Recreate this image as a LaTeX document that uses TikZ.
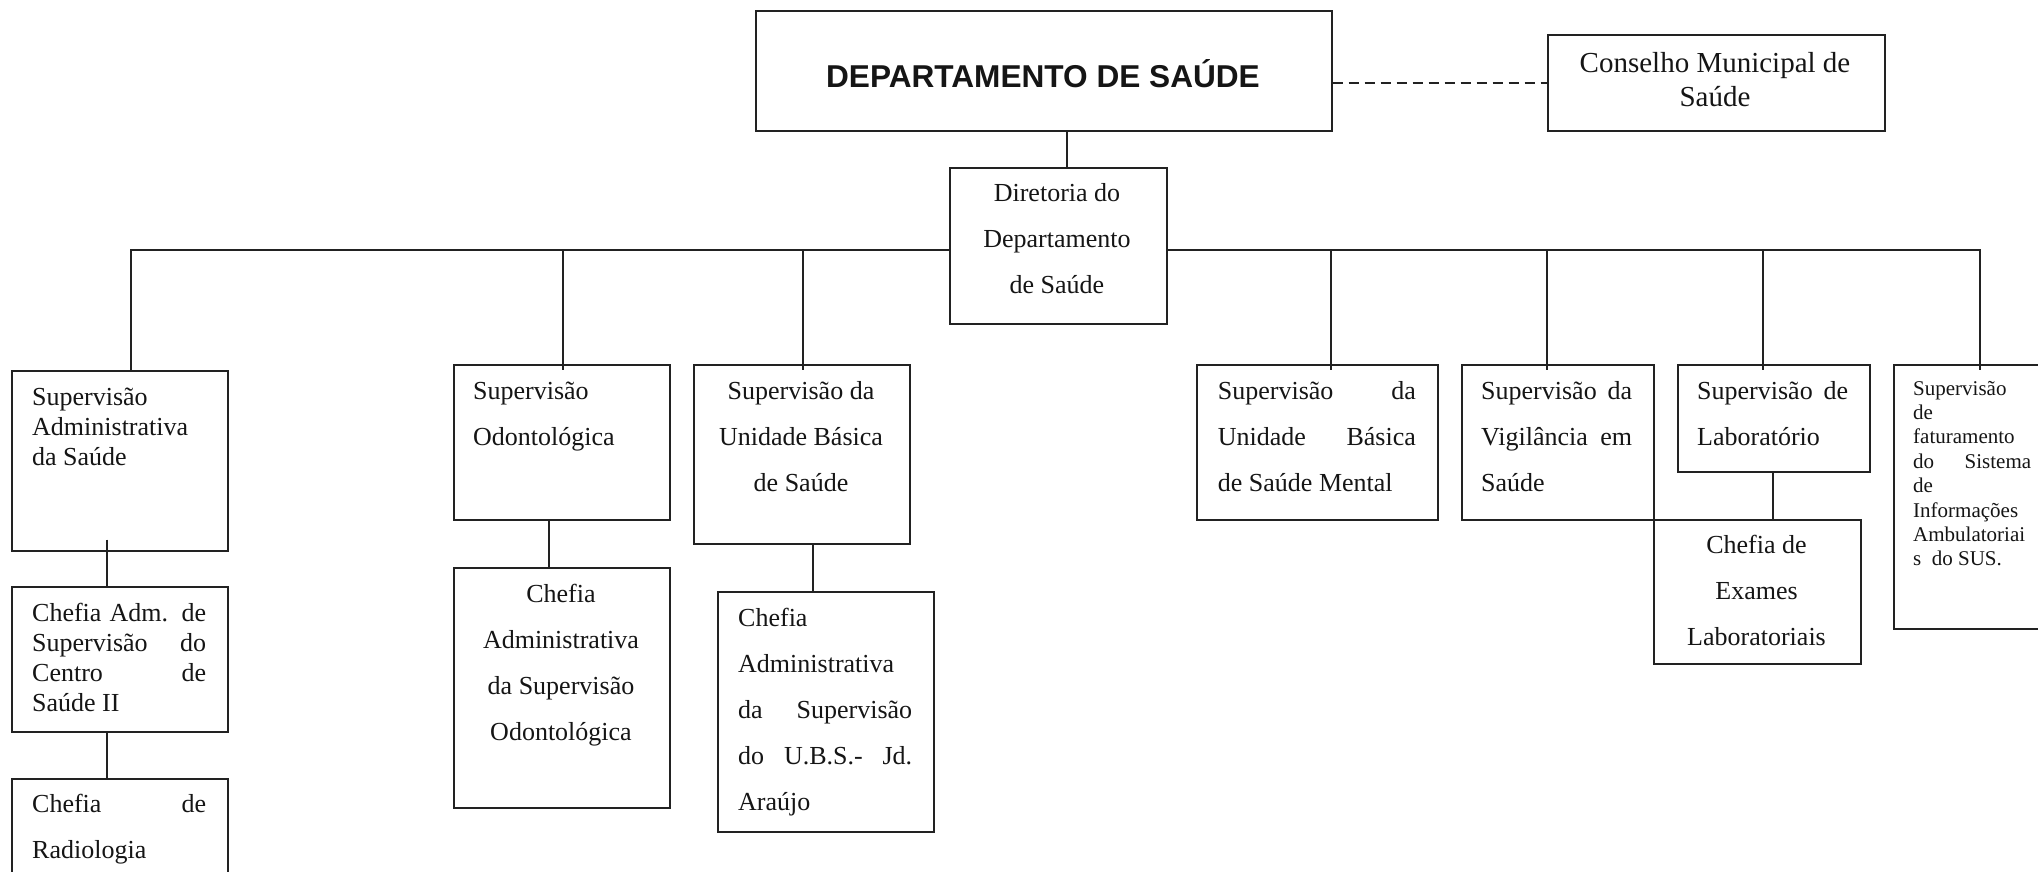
\documentclass[tikz,border=0pt]{standalone}
\usepackage{fontspec}
\setmainfont{Liberation Serif}
\newfontfamily\arialfont{Liberation Sans}
\usetikzlibrary{calc}
\definecolor{linec}{HTML}{222222}
\definecolor{textc}{HTML}{151515}
\newcommand\fss{\fontsize{26}{30}\selectfont}
\newcommand\fsd{\fontsize{26}{46}\selectfont}
\newcommand\jl[1]{\makebox[\linewidth][s]{#1}}
\tikzset{
  bx/.style={draw=linec, line width=1.7pt, inner sep=0pt, anchor=north west},
  txt/.style={inner sep=0pt, anchor=base west, text=textc},
  ctxt/.style={inner sep=0pt, anchor=base, text=textc},
  conn/.style={draw=linec, line width=1.6pt},
}
\begin{document}
\begin{tikzpicture}[x=1pt,y=-1pt]
\useasboundingbox (0,0) rectangle (2038,871);
\fill[white] (0,0) rectangle (2038,871);

% boxes
\node[bx, minimum width=576pt, minimum height=120pt] (dept) at (755,10) {};
\node[bx, minimum width=337pt, minimum height=96pt] (cons) at (1547,34) {};
\node[bx, minimum width=217pt, minimum height=156pt] (dir) at (949,167) {};
\node[bx, minimum width=216pt, minimum height=180pt] (sadm) at (11,370) {};
\node[bx, minimum width=216pt, minimum height=145pt] (cadm) at (11,586) {};
\node[bx, minimum width=216pt, minimum height=130pt] (crad) at (11,778) {};
\node[bx, minimum width=216pt, minimum height=155pt] (sodo) at (453,364) {};
\node[bx, minimum width=216pt, minimum height=240pt] (codo) at (453,567) {};
\node[bx, minimum width=216pt, minimum height=179pt] (subs) at (693,364) {};
\node[bx, minimum width=216pt, minimum height=240pt] (cubs) at (717,591) {};
\node[bx, minimum width=241pt, minimum height=155pt] (smen) at (1196,364) {};
\node[bx, minimum width=192pt, minimum height=155pt] (svig) at (1461,364) {};
\node[bx, minimum width=192pt, minimum height=107pt] (slab) at (1677,364) {};
\node[bx, minimum width=207pt, minimum height=144pt] (cexa) at (1653,519) {};
\node[bx, minimum width=160pt, minimum height=264pt] (sfat) at (1893,364) {};

% texts
\node[ctxt] (tdept) at (1043,87) {\arialfont\bfseries\fontsize{31.6}{36}\selectfont DEPARTAMENTO DE SAÚDE};
\node[ctxt] (tcons) at (1715,72.7) {\parbox[t]{320pt}{\centering\fontsize{29}{33.3}\selectfont Conselho Municipal de\\ Saúde}};
\node[ctxt] (tdir) at (1057,201.7) {\parbox[t]{205pt}{\centering\fsd Diretoria do\\ Departamento\\ de Saúde}};
\node[txt] (tsadm) at (32,405) {\parbox[t]{174pt}{\raggedright\fss Supervisão\\ Administrativa\\ da Saúde}};
\node[txt] (tcadm) at (32,621.7) {\parbox[t]{174pt}{\raggedright\fss \jl{Chefia Adm. de}\\ \jl{Supervisão do}\\ \jl{Centro de}\\ Saúde II}};
\node[txt] (tcrad) at (32,812.7) {\parbox[t]{174pt}{\raggedright\fsd \jl{Chefia de}\\ Radiologia}};
\node[txt] (tsodo) at (473,399) {\parbox[t]{180pt}{\raggedright\fsd Supervisão\\ Odontológica}};
\node[ctxt] (tcodo) at (561,602) {\parbox[t]{200pt}{\centering\fsd Chefia\\ Administrativa\\ da Supervisão\\ Odontológica}};
\node[ctxt] (tsubs) at (801,399) {\parbox[t]{200pt}{\centering\fsd Supervisão da\\ Unidade Básica\\ de Saúde}};
\node[txt] (tcubs) at (738,626) {\parbox[t]{174pt}{\raggedright\fsd Chefia\\ Administrativa\\ \jl{da Supervisão}\\ \jl{do U.B.S.- Jd.}\\ Araújo}};
\node[txt] (tsmen) at (1217.7,399.3) {\parbox[t]{198pt}{\raggedright\fsd \jl{Supervisão da}\\ \jl{Unidade Básica}\\ de Saúde Mental}};
\node[txt] (tsvig) at (1481,399.3) {\parbox[t]{151pt}{\raggedright\fsd \jl{Supervisão da}\\ \jl{Vigilância em}\\ Saúde}};
\node[txt] (tslab) at (1697,399.3) {\parbox[t]{151pt}{\raggedright\fsd \jl{Supervisão de}\\ Laboratório}};
\node[ctxt] (tcexa) at (1756.5,553) {\parbox[t]{200pt}{\centering\fsd Chefia de\\ Exames\\ Laboratoriais}};
\node[txt] (tsfat) at (1913,395) {\parbox[t]{118pt}{\raggedright\fontsize{21}{24.4}\selectfont Supervisão\\ de\\ faturamento\\ \jl{do Sistema}\\ de\\ Informações\\ Ambulatoriai\\ s\ \ do SUS.}};

% connectors
\coordinate (jT) at (1067,130);
\draw[conn] (jT |- dept.south) -- (jT |- dir.north);
\draw[conn, dash pattern=on 10pt off 6pt] (dept.east |- cons.west) -- (cons.west);

\coordinate (jL) at (131,250);
\coordinate (jOdo) at (563,250);
\coordinate (jUbs) at (803,250);
\coordinate (jR) at (1980,250);
\coordinate (jMen) at (1331,250);
\coordinate (jVig) at (1547,250);
\coordinate (jLab) at (1763,250);

\draw[conn] (dir.west |- jL) -- (jL) -- (jL |- sadm.north);
\draw[conn] (jOdo) -- ($(jOdo |- sodo.north)+(0,6)$);
\draw[conn] (jUbs) -- ($(jUbs |- subs.north)+(0,6)$);
\draw[conn] (dir.east |- jR) -- (jR) -- ($(jR |- sfat.north)+(0,6)$);
\draw[conn] (jMen) -- ($(jMen |- smen.north)+(0,6)$);
\draw[conn] (jVig) -- ($(jVig |- svig.north)+(0,6)$);
\draw[conn] (jLab) -- ($(jLab |- slab.north)+(0,6)$);

\coordinate (k1) at (107,0);
\coordinate (k2) at (549,0);
\coordinate (k3) at (813,0);
\coordinate (k4) at (1773,0);
\draw[conn] ($(k1 |- sadm.south)+(0,-12)$) -- (k1 |- cadm.north);
\draw[conn] (k1 |- cadm.south) -- (k1 |- crad.north);
\draw[conn] (k2 |- sodo.south) -- (k2 |- codo.north);
\draw[conn] (k3 |- subs.south) -- (k3 |- cubs.north);
\draw[conn] (k4 |- slab.south) -- (k4 |- cexa.north);
\end{tikzpicture}
\end{document}
